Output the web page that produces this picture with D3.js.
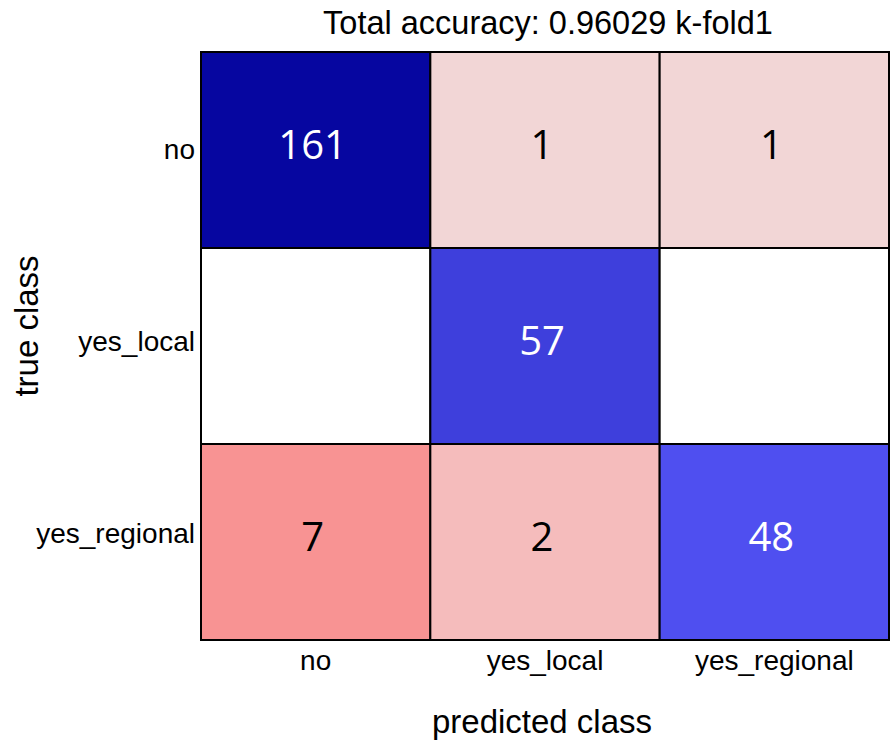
<!DOCTYPE html>
<html>
<head>
<meta charset="utf-8">
<script src="https://cdn.jsdelivr.net/npm/d3@7"></script>
<style>
  html, body { margin: 0; padding: 0; background: #fff; }
  svg { display: block; }
</style>
</head>
<body>
<svg id="chart" width="891" height="742"></svg>
<script>
// Confusion matrix data
const classes = ["no", "yes_local", "yes_regional"];
const titleText = "Total accuracy: 0.96029 k-fold1";
const xTitle = "predicted class";
const yTitle = "true class";
// rows = true class, columns = predicted class
const rowNo = [161, 1, 1];
const rowYesLocal = [0, 57, 0];
const rowYesRegional = [7, 2, 48];
const counts = [rowNo, rowYesLocal, rowYesRegional];

const svg = d3.select("#chart");
const gridLeft = 201, gridTop = 52, gridRight = 889, gridBottom = 640;
const labelFont = "'Liberation Sans', Arial, sans-serif";

const x = d3.scaleBand().domain(classes).range([gridLeft, gridRight]);
const y = d3.scaleBand().domain(classes).range([gridTop, gridBottom]);

// Correct predictions shade in blue, misclassifications in red, by count
const blue = d3.scaleLinear().domain([48, 57, 161]).range(["#4f4ff0", "#3e3fdc", "#0606a0"]).clamp(true);
const red = d3.scaleLinear().domain([0, 1, 2, 7]).range(["#ffffff", "#f2d6d6", "#f5bcbc", "#f89393"]).clamp(true);

const cells = [];
counts.forEach((row, i) => {
  row.forEach((v, j) => cells.push({ t: classes[i], p: classes[j], v, diag: i === j }));
});

const g = svg.append("g");
g.selectAll("rect.cell").data(cells).join("rect")
  .attr("class", "cell")
  .attr("x", d => x(d.p))
  .attr("y", d => y(d.t))
  .attr("width", x.bandwidth())
  .attr("height", y.bandwidth())
  .attr("fill", d => d.diag ? blue(d.v) : red(d.v))
  .attr("stroke", "#000")
  .attr("stroke-width", 2);

// Counts (empty cells stay blank)
g.selectAll("text.val").data(cells.filter(d => d.v > 0)).join("text")
  .attr("class", "val")
  .attr("x", d => x(d.p) + x.bandwidth() / 2 - 3)
  .attr("y", d => y(d.t) + y.bandwidth() / 2 + 9)
  .attr("text-anchor", "middle")
  .attr("font-family", "'Open Sans', sans-serif")
  .attr("font-size", 40)
  .attr("fill", d => d.diag ? "#ffffff" : "#000000")
  .text(d => d.v);

// Row labels (true class)
const rowLabelY = d3.scalePoint().domain(classes).range([159, 543]);
svg.append("g").selectAll("text").data(classes).join("text")
  .attr("x", 195)
  .attr("y", d => rowLabelY(d))
  .attr("text-anchor", "end")
  .attr("font-family", labelFont)
  .attr("font-size", 28)
  .attr("fill", "#000")
  .text(d => d);

// Column labels (predicted class)
svg.append("g").selectAll("text").data(classes).join("text")
  .attr("x", d => x(d) + x.bandwidth() / 2)
  .attr("y", 670)
  .attr("text-anchor", "middle")
  .attr("font-family", labelFont)
  .attr("font-size", 28)
  .attr("fill", "#000")
  .text(d => d);

// Title and axis titles
svg.append("text")
  .attr("x", 548).attr("y", 34)
  .attr("text-anchor", "middle")
  .attr("font-family", labelFont)
  .attr("font-size", 32.5)
  .text(titleText);

svg.append("text")
  .attr("x", 542).attr("y", 733)
  .attr("text-anchor", "middle")
  .attr("font-family", labelFont)
  .attr("font-size", 33)
  .text(xTitle);

svg.append("text")
  .attr("transform", "translate(38, 326) rotate(-90)")
  .attr("text-anchor", "middle")
  .attr("font-family", labelFont)
  .attr("font-size", 33)
  .text(yTitle);
</script>
</body>
</html>
